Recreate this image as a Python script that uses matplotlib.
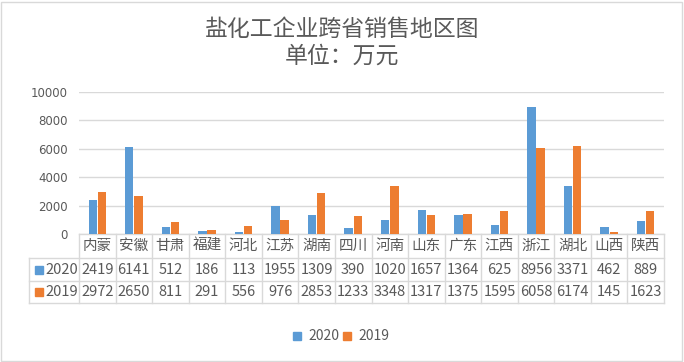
import numpy as np
import matplotlib
matplotlib.use("Agg")
import matplotlib.pyplot as plt
from matplotlib.patches import Rectangle

plt.rcParams['font.family'] = ['Noto Sans CJK SC', 'DejaVu Sans']

provinces = ["内蒙", "安徽", "甘肃", "福建", "河北", "江苏", "湖南", "四川",
             "河南", "山东", "广东", "江西", "浙江", "湖北", "山西", "陕西"]
sales_2020 = [2419, 6141, 512, 186, 113, 1955, 1309, 390,
              1020, 1657, 1364, 625, 8956, 3371, 462, 889]
sales_2019 = [2972, 2650, 811, 291, 556, 976, 2853, 1233,
              3348, 1317, 1375, 1595, 6058, 6174, 145, 1623]
series_names = ["2020", "2019"]
yticks = [0, 2000, 4000, 6000, 8000, 10000]

blue = "#5B9BD5"
orange = "#ED7D31"
grid_c = "#D9D9D9"
txt = "#595959"

W, H = 684, 362
fig = plt.figure(figsize=(W / 100, H / 100), dpi=100)

# plot area in pixels
left, right, top, bottom = 79, 664, 92, 234
ax = fig.add_axes([left / W, 1 - bottom / H, (right - left) / W, (bottom - top) / H])

x = np.arange(len(provinces))
bw = 0.23
ax.bar(x - bw / 2 - 0.01, sales_2020, bw, color=blue, zorder=3)
ax.bar(x + bw / 2 + 0.01, sales_2019, bw, color=orange, zorder=3)

ax.set_xlim(-0.5, len(provinces) - 0.5)
ax.set_ylim(0, 10000)
ax.set_yticks(yticks)
ax.set_yticklabels([str(v) for v in yticks], fontsize=8.5, color=txt, family='DejaVu Sans')
ax.set_xticks([])
ax.tick_params(axis='y', length=0, pad=8)
ax.grid(axis='y', color=grid_c, linewidth=1, zorder=0)
for s in ax.spines.values():
    s.set_visible(False)

# data table below the plot
rows_px = [234, 258, 281, 303]
tr = ax.get_xaxis_transform()


def ya(p):
    return (bottom - p) / (bottom - top)


hdr_left = -0.5 - (left - 29) / ((right - left) / len(provinces))
lc = dict(color=grid_c, linewidth=1, clip_on=False, transform=tr)
ax.plot([-0.5, len(provinces) - 0.5], [ya(rows_px[0])] * 2, **lc)
for p in rows_px[1:]:
    ax.plot([hdr_left, len(provinces) - 0.5], [ya(p)] * 2, **lc)
for k in range(len(provinces) + 1):
    ax.plot([k - 0.5] * 2, [ya(rows_px[0]), ya(rows_px[-1])], **lc)
ax.plot([hdr_left] * 2, [ya(rows_px[1]), ya(rows_px[-1])], **lc)

for i, name in enumerate(provinces):
    ax.text(i, ya((rows_px[0] + rows_px[1]) / 2), name, transform=tr, ha='center',
            va='center', fontsize=10.5, color=txt)
    ax.text(i, ya((rows_px[1] + rows_px[2]) / 2), str(sales_2020[i]), transform=tr,
            ha='center', va='center', fontsize=10.5, color=txt)
    ax.text(i, ya((rows_px[2] + rows_px[3]) / 2), str(sales_2019[i]), transform=tr,
            ha='center', va='center', fontsize=10.5, color=txt)

for j, (nm, col) in enumerate(zip(series_names, [blue, orange])):
    yc = (rows_px[1 + j] + rows_px[2 + j]) / 2
    fig.patches.append(Rectangle((35 / W, 1 - (yc + 4) / H), 8 / W, 8 / H,
                                 transform=fig.transFigure, color=col))
    fig.text(45 / W, 1 - yc / H, nm, ha='left', va='center', fontsize=10.5, color=txt)

# title
fig.text(0.5, 1 - 29 / H, "盐化工企业跨省销售地区图", ha='center', va='center',
         fontsize=16.5, color=txt, fontweight='light')
fig.text(0.5, 1 - 56 / H, "单位：万元", ha='center', va='center', fontsize=16.5,
         color=txt, fontweight='light')

# legend
for nm, col, xs in [(series_names[0], blue, 293), (series_names[1], orange, 343)]:
    fig.patches.append(Rectangle((xs / W, 1 - 340 / H), 8 / W, 8 / H,
                                 transform=fig.transFigure, color=col))
    fig.text((xs + 15) / W, 1 - 336 / H, nm, ha='left', va='center', fontsize=10, color=txt)

# outer frame
fig.patches.append(Rectangle((1 / W, 1 / H), (W - 3) / W, (H - 3) / H, transform=fig.transFigure,
                             fill=False, edgecolor="#D9D9D9", linewidth=1))

fig.savefig("out.png", dpi=100)
